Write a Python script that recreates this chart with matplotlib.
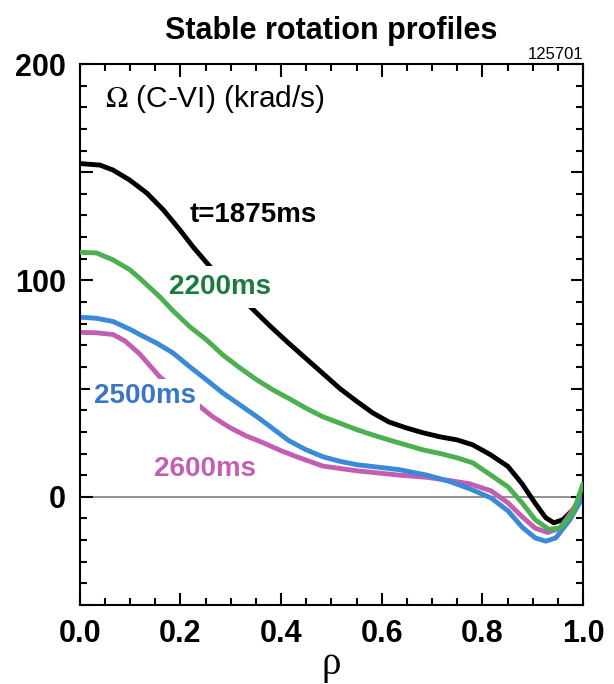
# stable_rotation_profiles.py
# Toroidal rotation profiles (C-VI CER) for shot 125701

import matplotlib
matplotlib.use('Agg')
import matplotlib.pyplot as plt
from matplotlib.ticker import MultipleLocator

# ----------------------------------------------------------------------
#   Data
# ----------------------------------------------------------------------

rho_1875   = [0.0, 0.04, 0.066, 0.099, 0.133, 0.166, 0.199, 0.225, 0.249, 0.29, 0.338, 0.38, 0.415, 0.449, 0.483, 0.517, 0.551, 0.582, 0.614, 0.648, 0.682, 0.716, 0.75, 0.781, 0.815, 0.851, 0.879, 0.905, 0.926, 0.942, 0.96, 0.98, 1.0]
omega_1875 = [154, 153.3, 151, 146.4, 140.4, 132.6, 123.3, 115.5, 109, 98, 88, 78.5, 71, 64, 57, 50, 44, 38.8, 34.6, 31.9, 29.6, 27.7, 26.3, 24, 19.6, 14, 6, -3, -9.7, -12, -10.6, -6, 1]

rho_2200   = [0.0, 0.033, 0.066, 0.099, 0.119, 0.159, 0.185, 0.219, 0.252, 0.284, 0.318, 0.352, 0.384, 0.415, 0.449, 0.483, 0.517, 0.551, 0.582, 0.614, 0.648, 0.682, 0.716, 0.75, 0.781, 0.817, 0.851, 0.879, 0.905, 0.932, 0.954, 0.98, 1.0]
omega_2200 = [113, 112.7, 109.5, 105, 101, 92.4, 86, 78.5, 72.5, 65.6, 59.6, 54, 49.4, 45.5, 41, 37, 34, 31, 28.6, 26.3, 24, 21.7, 20, 18, 15.7, 10, 4.6, -2.8, -10.6, -15, -14.5, -7.4, 6]

rho_2500   = [0.0, 0.033, 0.066, 0.099, 0.119, 0.153, 0.185, 0.219, 0.252, 0.284, 0.318, 0.352, 0.378, 0.398, 0.415, 0.449, 0.483, 0.517, 0.551, 0.60, 0.636, 0.69, 0.736, 0.775, 0.817, 0.851, 0.879, 0.905, 0.926, 0.946, 0.974, 1.0]
omega_2500 = [83, 82.5, 81, 77.5, 75, 71, 66.5, 60, 54, 48, 42.5, 37, 32.5, 29, 26, 21.8, 18.5, 16.4, 14.8, 13.5, 12.5, 10, 7, 3.7, -0.5, -6.5, -14, -19, -20.5, -19, -10.6, 0]

rho_2600   = [0.0, 0.033, 0.066, 0.09, 0.119, 0.159, 0.195, 0.232, 0.264, 0.298, 0.33, 0.364, 0.398, 0.431, 0.483, 0.551, 0.636, 0.69, 0.736, 0.775, 0.817, 0.851, 0.879, 0.905, 0.93, 0.954, 0.98, 1.0]
omega_2600 = [76, 75.8, 75, 72, 66, 55.4, 48.5, 43, 37, 32, 28.2, 25, 21.5, 18.5, 14.2, 12, 10, 9, 7.5, 6, 2.8, -2.8, -9.2, -14.5, -16.5, -14.5, -6, 2]

x_ticks  = [0.0, 0.2, 0.4, 0.6, 0.8, 1.0]
y_ticks  = [-50, 0, 50, 100, 150, 200]
y_labels = ['', '0', '', '100', '', '200']

# ----------------------------------------------------------------------
#   Plot
# ----------------------------------------------------------------------

plt.rcParams['font.family'] = ['Liberation Sans', 'DejaVu Sans']
plt.rcParams['mathtext.fontset'] = 'stix'
plt.rcParams['lines.solid_joinstyle'] = 'round'
plt.rcParams['lines.solid_capstyle'] = 'round'

fig = plt.figure(figsize=(6.14, 6.84), dpi=100)
ax = fig.add_axes([0.130, 0.1155, 0.8195, 0.7909])

ax.axhline(0, color='#808080', lw=1.2, zorder=1)

ax.plot(rho_1875, omega_1875, color='black',   lw=3.5, zorder=2)
ax.plot(rho_2200, omega_2200, color='#4caf50', lw=3.5, zorder=5)
ax.plot(rho_2600, omega_2600, color='#c25fb4', lw=3.5, zorder=2)
ax.plot(rho_2500, omega_2500, color='#3a8ad8', lw=3.5, zorder=2)

box = dict(facecolor='white', edgecolor='none', pad=3)
ax.text(0.218, 130, 't=1875ms', color='black', fontsize=20, fontweight='bold',
        va='center', ha='left', zorder=3, bbox=box)
ax.text(0.178, 97, '2200ms', color='#1c7a3c', fontsize=20, fontweight='bold',
        va='center', ha='left', zorder=4, bbox=dict(facecolor='white', edgecolor='none', pad=6))
ax.text(0.028, 46.5, '2500ms', color='#3a76c6', fontsize=20, fontweight='bold',
        va='center', ha='left', zorder=4, bbox=box)
ax.text(0.148, 13, '2600ms', color='#c25fb4', fontsize=20, fontweight='bold',
        va='center', ha='left', zorder=4, bbox=box)

ax.text(0.05, 184, r'$\Omega$ (C-VI) (krad/s)', color='black', fontsize=21.5,
        va='center', ha='left', zorder=4)
ax.text(1.0, 1.004, '125701', transform=ax.transAxes, fontsize=12,
        ha='right', va='bottom')

ax.set_title('Stable rotation profiles', fontsize=22, fontweight='bold', pad=18)

ax.set_xlim(0, 1)
ax.set_ylim(-50, 200)
ax.set_xticks(x_ticks)
ax.set_xticklabels(['%.1f' % t for t in x_ticks])
ax.set_yticks(y_ticks)
ax.set_yticklabels(y_labels)
ax.xaxis.set_minor_locator(MultipleLocator(0.05))
ax.yaxis.set_minor_locator(MultipleLocator(10))
ax.tick_params(which='both', direction='in', top=True, right=True, width=1.5)
ax.tick_params(which='major', length=9, labelsize=22, pad=10)
ax.tick_params(which='minor', length=5)
for lab in ax.get_xticklabels() + ax.get_yticklabels():
    lab.set_fontweight('bold')
for s in ax.spines.values():
    s.set_linewidth(1.5)

ax.set_xlabel('ρ', fontsize=28, family='Liberation Serif', labelpad=-2)

fig.savefig('out.png', dpi=100)
